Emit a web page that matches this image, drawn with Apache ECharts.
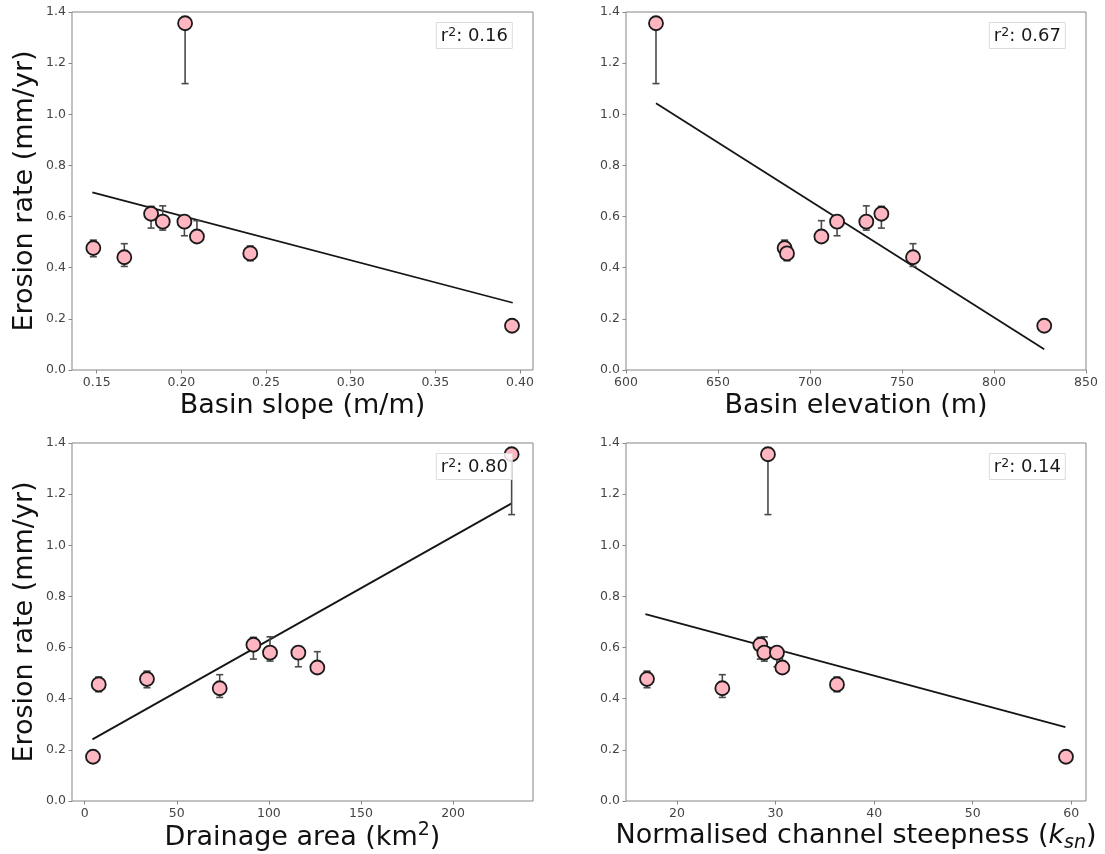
<!DOCTYPE html>
<html>
<head>
<meta charset="utf-8">
<script src="https://cdn.jsdelivr.net/npm/echarts@6/dist/echarts.min.js"></script>
<style>html,body{margin:0;padding:0;background:#fff}#c{width:1105px;height:854px}</style>
</head>
<body>
<div id="c"></div>
<script>
// Samples (same order in every array)
const erosion = [1.356, 0.611, 0.580, 0.580, 0.522, 0.477, 0.456, 0.441, 0.173];
const errLow  = [1.120, 0.555, 0.547, 0.525, 0.500, 0.443, 0.427, 0.405, 0.160];
const errHigh = [1.370, 0.640, 0.642, 0.600, 0.584, 0.508, 0.485, 0.494, 0.185];

const basinSlope = [0.2022, 0.1821, 0.189, 0.2018, 0.2092, 0.148, 0.2407, 0.1663, 0.3953];
const basinElev  = [616.3, 738.8, 730.6, 714.7, 706.2, 686.2, 687.5, 756.0, 827.3];
const drainArea  = [231.8, 91.6, 100.6, 116.0, 126.3, 33.8, 7.6, 73.3, 4.5];
const ksn        = [29.23, 28.45, 28.86, 30.14, 30.69, 16.96, 36.23, 24.6, 59.46];

// Regression line end points [x, y]
const fitSlope = [[0.1474, 0.695], [0.3957, 0.263]];
const fitElev  = [[616.3, 1.043], [827.3, 0.081]];
const fitArea  = [[4.2, 0.241], [231.8, 1.164]];
const fitKsn   = [[16.8, 0.731], [59.4, 0.289]];

const r2Values = ['0.16', '0.67', '0.80', '0.14'];

// Tick labels
const yTicks = [0, 0.2, 0.4, 0.6, 0.8, 1.0, 1.2, 1.4];
const slopeTicks = [0.15, 0.20, 0.25, 0.30, 0.35, 0.40];
const elevTicks = [600, 650, 700, 750, 800, 850];
const areaTicks = [0, 50, 100, 150, 200];
const ksnTicks = [20, 30, 40, 50, 60];

const FONT = 'DejaVu Sans';
const chart = echarts.init(document.getElementById('c'));

const grids = [
  {left: 72, top: 12, width: 461, height: 358},
  {left: 626, top: 12, width: 460, height: 358},
  {left: 72, top: 443, width: 461, height: 358},
  {left: 626, top: 443, width: 460, height: 358}
].map(g => Object.assign({show: true, borderColor: '#858585', borderWidth: 1, backgroundColor: '#fff'}, g));

const titleRich = {
  n: {fontFamily: FONT, fontSize: 27, color: '#111', lineHeight: 34},
  k: {fontFamily: FONT, fontSize: 27, color: '#111', fontStyle: 'italic', lineHeight: 34},
  s: {fontFamily: FONT, fontSize: 19, color: '#111', fontStyle: 'italic', lineHeight: 18, verticalAlign: 'bottom'},
  p: {fontFamily: FONT, fontSize: 19, color: '#111', lineHeight: 20, verticalAlign: 'top'}
};

function xAxis(idx, name, min, max, ticks, dec, gap) {
  return {
    type: 'value', gridIndex: idx, min: min, max: max,
    name: name, nameLocation: 'middle', nameGap: gap,
    nameTextStyle: {fontFamily: FONT, fontSize: 27, color: '#111', verticalAlign: 'top', rich: titleRich},
    splitLine: {show: false},
    axisLine: {show: false, onZero: false},
    axisTick: {show: true, length: 3.5, lineStyle: {color: '#888'}, customValues: ticks},
    axisLabel: {fontFamily: FONT, fontSize: 12.5, color: '#444', margin: 6, customValues: ticks,
      formatter: v => Number(v).toFixed(dec)}
  };
}
function yAxis(idx, withName) {
  return {
    type: 'value', gridIndex: idx, min: 0, max: 1.4,
    name: withName ? 'Erosion rate (mm/yr)' : '', nameLocation: 'middle', nameGap: 34,
    nameTextStyle: {fontFamily: FONT, fontSize: 27, color: '#111'},
    splitLine: {show: false},
    axisLine: {show: false, onZero: false},
    axisTick: {show: true, length: 3.5, lineStyle: {color: '#888'}, customValues: yTicks},
    axisLabel: {fontFamily: FONT, fontSize: 12.5, color: '#444', margin: 6, customValues: yTicks,
      formatter: v => Number(v).toFixed(1)}
  };
}

const xAxes = [
  xAxis(0, 'Basin slope (m/m)', 0.1354, 0.4077, slopeTicks, 2, 22),
  xAxis(1, 'Basin elevation (m)', 600, 850, elevTicks, 0, 22),
  xAxis(2, '{n|Drainage area (km}{p|2}{n|)}', -6.9, 243.4, areaTicks, 0, 18),
  xAxis(3, '{n|Normalised channel steepness (}{k|k}{s|sn}{n|)}', 14.83, 61.49, ksnTicks, 0, 18)
];
const yAxes = [yAxis(0, true), yAxis(1, false), yAxis(2, true), yAxis(3, false)];

const xSets = [basinSlope, basinElev, drainArea, ksn];
const fits = [fitSlope, fitElev, fitArea, fitKsn];

const series = [];
xSets.forEach((xs, i) => {
  series.push({
    type: 'line', xAxisIndex: i, yAxisIndex: i, data: fits[i], symbol: 'none',
    lineStyle: {color: '#151515', width: 1.8}, z: 2, silent: true
  });
  series.push({
    type: 'custom', xAxisIndex: i, yAxisIndex: i, z: 3, silent: true,
    data: xs.map((x, j) => [x, errLow[j], errHigh[j]]),
    encode: {x: 0, y: [1, 2]},
    renderItem: function (params, api) {
      const x = api.value(0);
      const pLo = api.coord([x, api.value(1)]);
      const pHi = api.coord([x, api.value(2)]);
      const w = 3.5;
      const st = {stroke: '#4a4a4a', lineWidth: 1.6};
      return {type: 'group', children: [
        {type: 'line', shape: {x1: pLo[0], y1: pLo[1], x2: pHi[0], y2: pHi[1]}, style: st},
        {type: 'line', shape: {x1: pLo[0] - w, y1: pLo[1], x2: pLo[0] + w, y2: pLo[1]}, style: st},
        {type: 'line', shape: {x1: pHi[0] - w, y1: pHi[1], x2: pHi[0] + w, y2: pHi[1]}, style: st}
      ]};
    }
  });
  series.push({
    type: 'scatter', xAxisIndex: i, yAxisIndex: i, z: 4,
    data: xs.map((x, j) => [x, erosion[j]]),
    symbolSize: 14,
    itemStyle: {color: '#FFB6C1', borderColor: '#1a1a1a', borderWidth: 1.8, opacity: 1}
  });
});

const boxPos = [
  {right: 592, top: 22}, {right: 39, top: 22},
  {right: 592, top: 453}, {right: 39, top: 453}
];
const titles = r2Values.map((v, i) => Object.assign({
  text: '{a|r}{b|2}{a|: ' + v + '}', padding: [4, 5, 4, 5],
  backgroundColor: 'rgba(255,255,255,0.85)', borderColor: '#dcdcdc', borderWidth: 1,
  textStyle: {fontFamily: FONT, fontSize: 18, fontWeight: 'normal', color: '#1a1a1a',
    rich: {
      a: {fontFamily: FONT, fontSize: 18, color: '#1a1a1a', lineHeight: 20},
      b: {fontFamily: FONT, fontSize: 12.5, color: '#1a1a1a', lineHeight: 12, verticalAlign: 'top'}
    }},
  z: 10
}, boxPos[i]));

chart.setOption({
  animation: false,
  title: titles,
  grid: grids,
  xAxis: xAxes,
  yAxis: yAxes,
  series: series
});
</script>
</body>
</html>
